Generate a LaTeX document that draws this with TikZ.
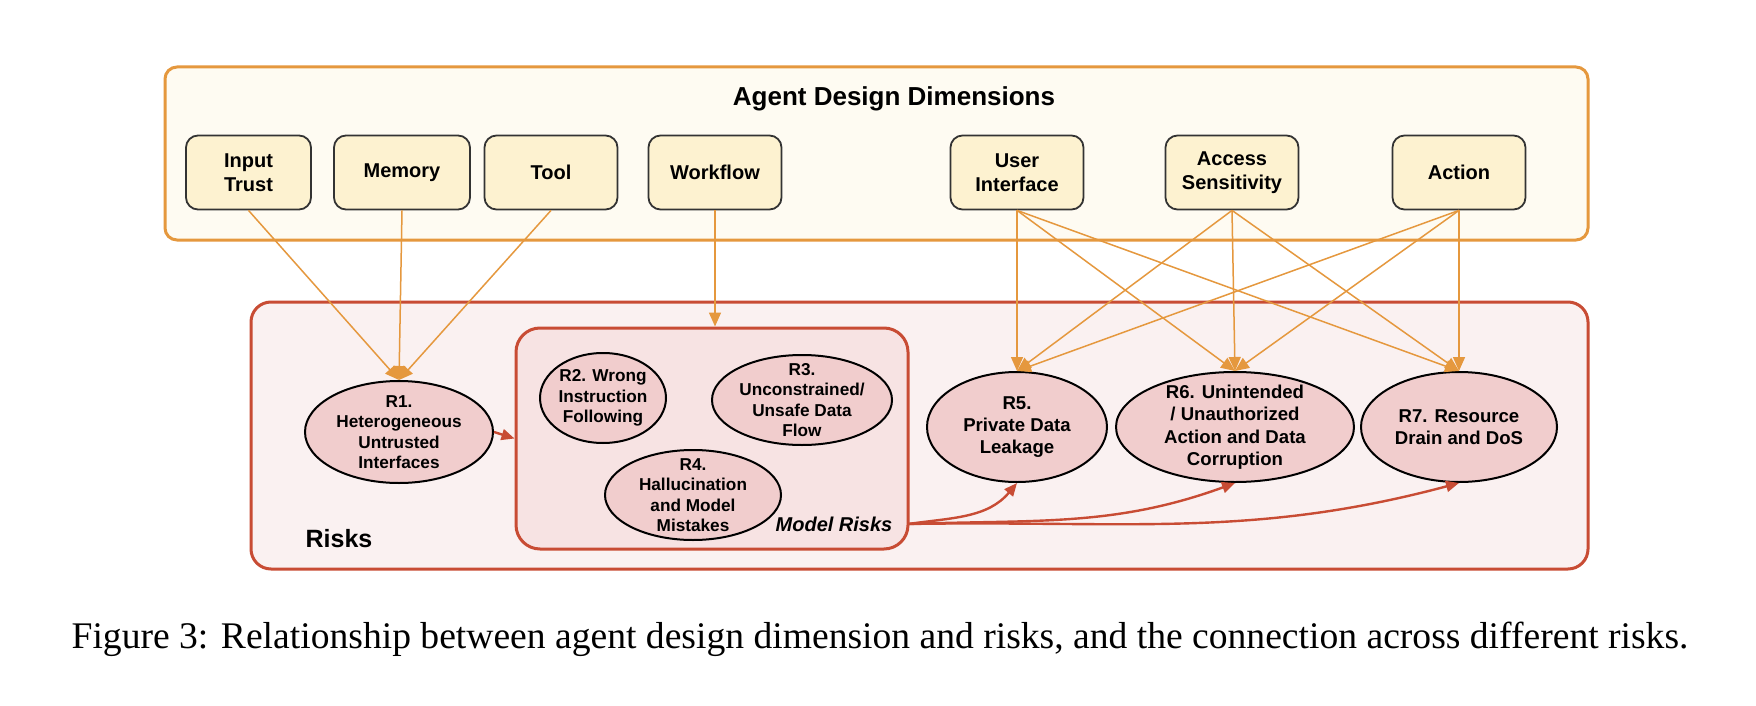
\documentclass[tikz,border=0pt]{standalone}
\usepackage{fontspec}
\setmainfont{Liberation Serif}
\newfontfamily\labfont{Liberation Sans}
\usetikzlibrary{shapes.geometric,arrows.meta}

\definecolor{dimorange}{RGB}{229,152,62}
\definecolor{dimfill}{RGB}{254,251,242}
\definecolor{boxfill}{RGB}{253,242,208}
\definecolor{riskred}{RGB}{200,76,52}
\definecolor{riskfill}{RGB}{250,241,241}
\definecolor{modelfill}{RGB}{247,227,227}
\definecolor{ellfill}{RGB}{241,205,205}

\begin{document}
\begin{tikzpicture}[x=0.5pt,y=-0.5pt,every node/.style={align=center,font=\labfont\bfseries},
dim/.style={draw=black!80,fill=boxfill,rounded corners=6pt,line width=0.9pt,minimum width=66.5pt,minimum height=37pt,inner sep=0pt,font=\labfont\bfseries\fontsize{10}{12}\selectfont},
risk/.style={ellipse,draw=black,fill=ellfill,line width=1pt,inner sep=-8pt,font=\labfont\bfseries\fontsize{8.6}{10.2}\selectfont},
bigrisk/.style={risk,minimum height=55pt,font=\labfont\bfseries\fontsize{9.3}{11.2}\selectfont},
dimarrow/.style={draw=dimorange,line width=0.75pt,-{Triangle[length=7pt,width=6pt]}},
riskarrow/.style={draw=riskred,line width=1.2pt,-{Triangle[length=6.5pt,width=5.5pt]}}]
\useasboundingbox (0,0) rectangle (1756,706);
\fill[white] (0,0) rectangle (1756,706);
%================================================================
%	Box
\draw[draw=dimorange,fill=dimfill,line width=1.5pt,rounded corners=6pt] (165,67) rectangle (1588,240);
\draw[draw=riskred,fill=riskfill,line width=1.5pt,rounded corners=10pt] (251,302) rectangle (1588,569);
\node[draw=riskred,fill=modelfill,line width=1.5pt,rounded corners=12pt,minimum width=196pt,minimum height=110.5pt] (model) at (712,438.5) {};
%================================================================
%	Nodes
\node[font=\labfont\bfseries\fontsize{13}{15}\selectfont] (title) at (894,99) {Agent Design Dimensions};
\node[dim,minimum width=62.5pt] (input) at (248.5,172.5) {Input\\Trust};
\node[dim,minimum width=68pt] (memory) at (402,172.5) {Memory};
\node[dim] (tool) at (551,172.5) {Tool};
\node[dim] (workflow) at (715,172.5) {Workflow};
\node[dim] (ui) at (1017,172.5) {User\\Interface};
\node[dim] (access) at (1232,172.5) {Access\\Sensitivity};
\node[dim] (action) at (1459,172.5) {Action};
%----------------------------------------------------------------
\node[risk,minimum width=94pt,minimum height=51pt] (r1) at (399,432) {R1.\\Heterogeneous\\Untrusted\\Interfaces};
\node[risk,minimum width=63pt,minimum height=45pt] (r2) at (603,398) {R2. Wrong\\Instruction\\Following};
\node[risk,minimum width=90pt,minimum height=45pt] (r3) at (802,400) {R3.\\Unconstrained/\\Unsafe Data\\Flow};
\node[risk,minimum width=88pt,minimum height=45pt] (r4) at (693,495) {R4.\\Hallucination\\and Model\\Mistakes};
\node[bigrisk,minimum width=90pt] (r5) at (1017,427) {R5.\\Private Data\\Leakage};
\node[bigrisk,minimum width=119pt] (r6) at (1235,427) {R6. Unintended\\/ Unauthorized\\Action and Data\\Corruption};
\node[bigrisk,minimum width=98pt] (r7) at (1459,427) {R7. Resource\\Drain and DoS};
%----------------------------------------------------------------
\node[font=\labfont\bfseries\fontsize{12.5}{15}\selectfont] (risklab) at (339,539) {Risks};
\node[font=\labfont\bfseries\itshape\fontsize{10}{12}\selectfont] (modellab) at (834,524) {Model Risks};
\coordinate (mout) at (908,524);

%================================================================
%	Lines
\draw[dimarrow] (input.south) -- (r1.north);
\draw[dimarrow] (memory.south) -- (r1.north);
\draw[dimarrow] (tool.south) -- (r1.north);
\draw[dimarrow] (workflow.south) -- (workflow.south |- model.north);
%----------------------------------------------------------------
\draw[dimarrow] (ui.south) -- (r5.north);
\draw[dimarrow] (ui.south) -- (r6.north);
\draw[dimarrow] (ui.south) -- (r7.north);
\draw[dimarrow] (access.south) -- (r5.north);
\draw[dimarrow] (access.south) -- (r6.north);
\draw[dimarrow] (access.south) -- (r7.north);
\draw[dimarrow] (action.south) -- (r5.north);
\draw[dimarrow] (action.south) -- (r6.north);
\draw[dimarrow] (action.south) -- (r7.north);
%----------------------------------------------------------------
\draw[riskarrow] (r1.east) -- (model.west);
\draw[riskarrow] (mout) to[out=8,in=-130] (r5.south);
\draw[riskarrow] (mout) to[out=2,in=-160] (r6.south);
\draw[riskarrow] (mout) to[out=1,in=-165] (r7.south);

%================================================================
%	Caption
\node[font=\rmfamily\mdseries\fontsize{18.8}{22}\selectfont] (caption) at (880,639) {Figure 3: Relationship between agent design dimension and risks, and the connection across different risks.};
%================================================================
\end{tikzpicture}
\end{document}
